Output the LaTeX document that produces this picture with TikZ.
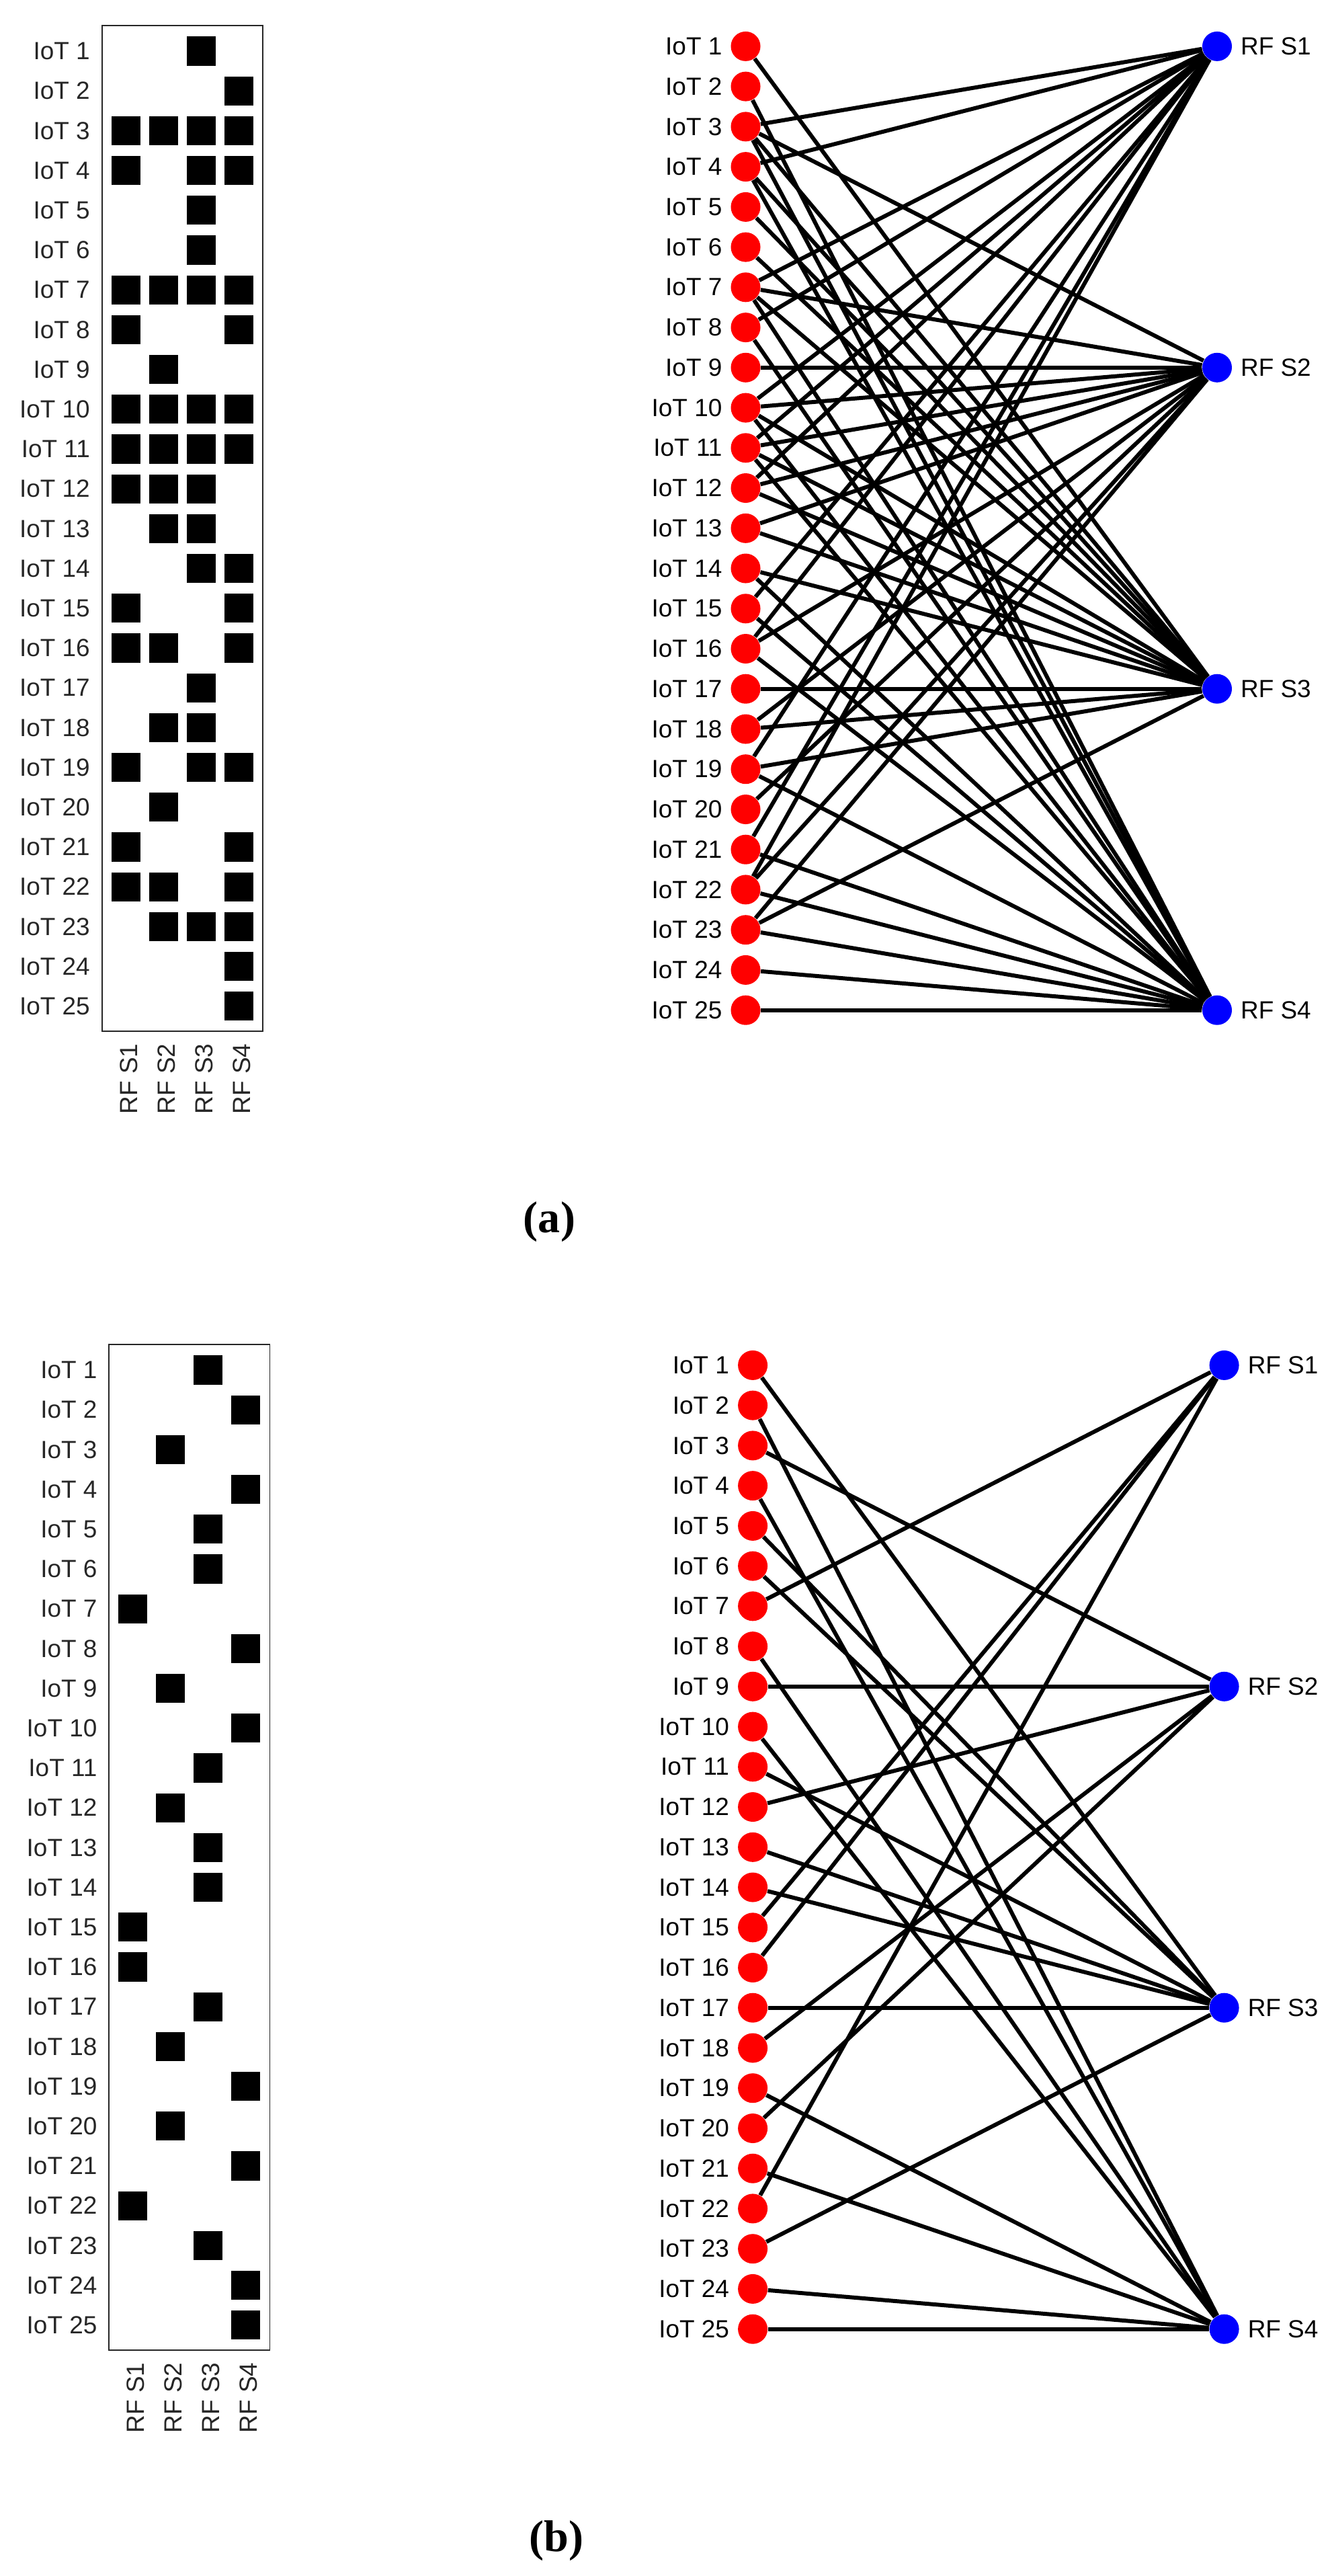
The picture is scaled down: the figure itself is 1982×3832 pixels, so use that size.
\documentclass[tikz,border=0pt]{standalone}
\usepackage{fontspec}
\usepackage{tikz}
\usepackage{xcolor}
\newfontfamily\labfont{Liberation Sans}
\newfontfamily\capfont{Liberation Serif}
\definecolor{axgray}{rgb}{0.15,0.15,0.15}
\tikzset{
  rowlab/.style={anchor=east,inner sep=0,text=axgray,font={\labfont\fontsize{10.5}{12}\selectfont}},
  collab/.style={rotate=90,anchor=east,inner sep=0,text=axgray,font={\labfont\fontsize{10.5}{12}\selectfont}},
  glab/.style={font={\labfont\fontsize{10.5}{12}\selectfont}},
  iot/.style={circle,fill=red,inner sep=0,minimum size=0.44cm,label distance=-0.07cm,label={[glab]left:#1}},
  rfs/.style={circle,fill=blue,inner sep=0,minimum size=0.44cm,label distance=-0.05cm,label={[glab]right:#1}},
  link/.style={line width=1.7pt},
  mbox/.style={draw=axgray,line width=0.5pt},
  sub/.style={font={\capfont\bfseries\fontsize{18.8}{22}\selectfont}}
}
\begin{document}
\begin{tikzpicture}[x=0.01cm,y=-0.01cm]
\useasboundingbox (0,0) rectangle (1982,3832);
\draw[mbox] (151.7,38) rectangle (391,1533.6);
\node[rowlab] (ra1) at (134.5,75.9) {IoT 1};
\node[rowlab] (ra2) at (134.5,135.1) {IoT 2};
\node[rowlab] (ra3) at (134.5,194.3) {IoT 3};
\node[rowlab] (ra4) at (134.5,253.5) {IoT 4};
\node[rowlab] (ra5) at (134.5,312.7) {IoT 5};
\node[rowlab] (ra6) at (134.5,371.9) {IoT 6};
\node[rowlab] (ra7) at (134.5,431.1) {IoT 7};
\node[rowlab] (ra8) at (134.5,490.3) {IoT 8};
\node[rowlab] (ra9) at (134.5,549.5) {IoT 9};
\node[rowlab] (ra10) at (134.5,608.7) {IoT 10};
\node[rowlab] (ra11) at (134.5,667.9) {IoT 11};
\node[rowlab] (ra12) at (134.5,727.1) {IoT 12};
\node[rowlab] (ra13) at (134.5,786.3) {IoT 13};
\node[rowlab] (ra14) at (134.5,845.5) {IoT 14};
\node[rowlab] (ra15) at (134.5,904.7) {IoT 15};
\node[rowlab] (ra16) at (134.5,963.9) {IoT 16};
\node[rowlab] (ra17) at (134.5,1023.1) {IoT 17};
\node[rowlab] (ra18) at (134.5,1082.3) {IoT 18};
\node[rowlab] (ra19) at (134.5,1141.5) {IoT 19};
\node[rowlab] (ra20) at (134.5,1200.7) {IoT 20};
\node[rowlab] (ra21) at (134.5,1259.9) {IoT 21};
\node[rowlab] (ra22) at (134.5,1319.1) {IoT 22};
\node[rowlab] (ra23) at (134.5,1378.3) {IoT 23};
\node[rowlab] (ra24) at (134.5,1437.5) {IoT 24};
\node[rowlab] (ra25) at (134.5,1496.7) {IoT 25};
\node[collab] (ca1) at (191.3,1552) {RF S1};
\node[collab] (ca2) at (247.3,1552) {RF S2};
\node[collab] (ca3) at (303.3,1552) {RF S3};
\node[collab] (ca4) at (359.3,1552) {RF S4};
\fill (277.8,54.3) rectangle +(43,43.2);
\fill (333.8,113.5) rectangle +(43,43.2);
\fill (165.8,172.7) rectangle +(43,43.2);
\fill (221.8,172.7) rectangle +(43,43.2);
\fill (277.8,172.7) rectangle +(43,43.2);
\fill (333.8,172.7) rectangle +(43,43.2);
\fill (165.8,231.9) rectangle +(43,43.2);
\fill (277.8,231.9) rectangle +(43,43.2);
\fill (333.8,231.9) rectangle +(43,43.2);
\fill (277.8,291.1) rectangle +(43,43.2);
\fill (277.8,350.3) rectangle +(43,43.2);
\fill (165.8,409.5) rectangle +(43,43.2);
\fill (221.8,409.5) rectangle +(43,43.2);
\fill (277.8,409.5) rectangle +(43,43.2);
\fill (333.8,409.5) rectangle +(43,43.2);
\fill (165.8,468.7) rectangle +(43,43.2);
\fill (333.8,468.7) rectangle +(43,43.2);
\fill (221.8,527.9) rectangle +(43,43.2);
\fill (165.8,587.1) rectangle +(43,43.2);
\fill (221.8,587.1) rectangle +(43,43.2);
\fill (277.8,587.1) rectangle +(43,43.2);
\fill (333.8,587.1) rectangle +(43,43.2);
\fill (165.8,646.3) rectangle +(43,43.2);
\fill (221.8,646.3) rectangle +(43,43.2);
\fill (277.8,646.3) rectangle +(43,43.2);
\fill (333.8,646.3) rectangle +(43,43.2);
\fill (165.8,705.5) rectangle +(43,43.2);
\fill (221.8,705.5) rectangle +(43,43.2);
\fill (277.8,705.5) rectangle +(43,43.2);
\fill (221.8,764.7) rectangle +(43,43.2);
\fill (277.8,764.7) rectangle +(43,43.2);
\fill (277.8,823.9) rectangle +(43,43.2);
\fill (333.8,823.9) rectangle +(43,43.2);
\fill (165.8,883.1) rectangle +(43,43.2);
\fill (333.8,883.1) rectangle +(43,43.2);
\fill (165.8,942.3) rectangle +(43,43.2);
\fill (221.8,942.3) rectangle +(43,43.2);
\fill (333.8,942.3) rectangle +(43,43.2);
\fill (277.8,1001.5) rectangle +(43,43.2);
\fill (221.8,1060.7) rectangle +(43,43.2);
\fill (277.8,1060.7) rectangle +(43,43.2);
\fill (165.8,1119.9) rectangle +(43,43.2);
\fill (277.8,1119.9) rectangle +(43,43.2);
\fill (333.8,1119.9) rectangle +(43,43.2);
\fill (221.8,1179.1) rectangle +(43,43.2);
\fill (165.8,1238.3) rectangle +(43,43.2);
\fill (333.8,1238.3) rectangle +(43,43.2);
\fill (165.8,1297.5) rectangle +(43,43.2);
\fill (221.8,1297.5) rectangle +(43,43.2);
\fill (333.8,1297.5) rectangle +(43,43.2);
\fill (221.8,1356.7) rectangle +(43,43.2);
\fill (277.8,1356.7) rectangle +(43,43.2);
\fill (333.8,1356.7) rectangle +(43,43.2);
\fill (333.8,1415.9) rectangle +(43,43.2);
\fill (333.8,1475.1) rectangle +(43,43.2);
\node[iot=IoT 1] (ia1) at (1109.5,68.9) {};
\node[iot=IoT 2] (ia2) at (1109.5,128.6) {};
\node[iot=IoT 3] (ia3) at (1109.5,188.4) {};
\node[iot=IoT 4] (ia4) at (1109.5,248.1) {};
\node[iot=IoT 5] (ia5) at (1109.5,307.9) {};
\node[iot=IoT 6] (ia6) at (1109.5,367.6) {};
\node[iot=IoT 7] (ia7) at (1109.5,427.3) {};
\node[iot=IoT 8] (ia8) at (1109.5,487.1) {};
\node[iot=IoT 9] (ia9) at (1109.5,546.8) {};
\node[iot=IoT 10] (ia10) at (1109.5,606.6) {};
\node[iot=IoT 11] (ia11) at (1109.5,666.3) {};
\node[iot=IoT 12] (ia12) at (1109.5,726.0) {};
\node[iot=IoT 13] (ia13) at (1109.5,785.8) {};
\node[iot=IoT 14] (ia14) at (1109.5,845.5) {};
\node[iot=IoT 15] (ia15) at (1109.5,905.3) {};
\node[iot=IoT 16] (ia16) at (1109.5,965.0) {};
\node[iot=IoT 17] (ia17) at (1109.5,1024.7) {};
\node[iot=IoT 18] (ia18) at (1109.5,1084.5) {};
\node[iot=IoT 19] (ia19) at (1109.5,1144.2) {};
\node[iot=IoT 20] (ia20) at (1109.5,1204.0) {};
\node[iot=IoT 21] (ia21) at (1109.5,1263.7) {};
\node[iot=IoT 22] (ia22) at (1109.5,1323.4) {};
\node[iot=IoT 23] (ia23) at (1109.5,1383.2) {};
\node[iot=IoT 24] (ia24) at (1109.5,1442.9) {};
\node[iot=IoT 25] (ia25) at (1109.5,1502.7) {};
\node[rfs=RF S1] (sa1) at (1811,68.9) {};
\node[rfs=RF S2] (sa2) at (1811,546.8) {};
\node[rfs=RF S3] (sa3) at (1811,1024.7) {};
\node[rfs=RF S4] (sa4) at (1811,1502.7) {};
\draw[link] (ia1) -- (sa3);
\draw[link] (ia2) -- (sa4);
\draw[link] (ia3) -- (sa1) (ia3) -- (sa2) (ia3) -- (sa3) (ia3) -- (sa4);
\draw[link] (ia4) -- (sa1) (ia4) -- (sa3) (ia4) -- (sa4);
\draw[link] (ia5) -- (sa3);
\draw[link] (ia6) -- (sa3);
\draw[link] (ia7) -- (sa1) (ia7) -- (sa2) (ia7) -- (sa3) (ia7) -- (sa4);
\draw[link] (ia8) -- (sa1) (ia8) -- (sa4);
\draw[link] (ia9) -- (sa2);
\draw[link] (ia10) -- (sa1) (ia10) -- (sa2) (ia10) -- (sa3) (ia10) -- (sa4);
\draw[link] (ia11) -- (sa1) (ia11) -- (sa2) (ia11) -- (sa3) (ia11) -- (sa4);
\draw[link] (ia12) -- (sa1) (ia12) -- (sa2) (ia12) -- (sa3);
\draw[link] (ia13) -- (sa2) (ia13) -- (sa3);
\draw[link] (ia14) -- (sa3) (ia14) -- (sa4);
\draw[link] (ia15) -- (sa1) (ia15) -- (sa4);
\draw[link] (ia16) -- (sa1) (ia16) -- (sa2) (ia16) -- (sa4);
\draw[link] (ia17) -- (sa3);
\draw[link] (ia18) -- (sa2) (ia18) -- (sa3);
\draw[link] (ia19) -- (sa1) (ia19) -- (sa3) (ia19) -- (sa4);
\draw[link] (ia20) -- (sa2);
\draw[link] (ia21) -- (sa1) (ia21) -- (sa4);
\draw[link] (ia22) -- (sa1) (ia22) -- (sa2) (ia22) -- (sa4);
\draw[link] (ia23) -- (sa2) (ia23) -- (sa3) (ia23) -- (sa4);
\draw[link] (ia24) -- (sa4);
\draw[link] (ia25) -- (sa4);
\node[sub] (capa) at (817.5,1818) {(a)};
\begin{scope}[shift={(10.6,1962)}]
\draw[mbox] (151.7,38) rectangle (391,1533.6);
\node[rowlab] (rb1) at (134.5,75.9) {IoT 1};
\node[rowlab] (rb2) at (134.5,135.1) {IoT 2};
\node[rowlab] (rb3) at (134.5,194.3) {IoT 3};
\node[rowlab] (rb4) at (134.5,253.5) {IoT 4};
\node[rowlab] (rb5) at (134.5,312.7) {IoT 5};
\node[rowlab] (rb6) at (134.5,371.9) {IoT 6};
\node[rowlab] (rb7) at (134.5,431.1) {IoT 7};
\node[rowlab] (rb8) at (134.5,490.3) {IoT 8};
\node[rowlab] (rb9) at (134.5,549.5) {IoT 9};
\node[rowlab] (rb10) at (134.5,608.7) {IoT 10};
\node[rowlab] (rb11) at (134.5,667.9) {IoT 11};
\node[rowlab] (rb12) at (134.5,727.1) {IoT 12};
\node[rowlab] (rb13) at (134.5,786.3) {IoT 13};
\node[rowlab] (rb14) at (134.5,845.5) {IoT 14};
\node[rowlab] (rb15) at (134.5,904.7) {IoT 15};
\node[rowlab] (rb16) at (134.5,963.9) {IoT 16};
\node[rowlab] (rb17) at (134.5,1023.1) {IoT 17};
\node[rowlab] (rb18) at (134.5,1082.3) {IoT 18};
\node[rowlab] (rb19) at (134.5,1141.5) {IoT 19};
\node[rowlab] (rb20) at (134.5,1200.7) {IoT 20};
\node[rowlab] (rb21) at (134.5,1259.9) {IoT 21};
\node[rowlab] (rb22) at (134.5,1319.1) {IoT 22};
\node[rowlab] (rb23) at (134.5,1378.3) {IoT 23};
\node[rowlab] (rb24) at (134.5,1437.5) {IoT 24};
\node[rowlab] (rb25) at (134.5,1496.7) {IoT 25};
\node[collab] (cb1) at (191.3,1552) {RF S1};
\node[collab] (cb2) at (247.3,1552) {RF S2};
\node[collab] (cb3) at (303.3,1552) {RF S3};
\node[collab] (cb4) at (359.3,1552) {RF S4};
\fill (277.8,54.3) rectangle +(43,43.2);
\fill (333.8,113.5) rectangle +(43,43.2);
\fill (221.8,172.7) rectangle +(43,43.2);
\fill (333.8,231.9) rectangle +(43,43.2);
\fill (277.8,291.1) rectangle +(43,43.2);
\fill (277.8,350.3) rectangle +(43,43.2);
\fill (165.8,409.5) rectangle +(43,43.2);
\fill (333.8,468.7) rectangle +(43,43.2);
\fill (221.8,527.9) rectangle +(43,43.2);
\fill (333.8,587.1) rectangle +(43,43.2);
\fill (277.8,646.3) rectangle +(43,43.2);
\fill (221.8,705.5) rectangle +(43,43.2);
\fill (277.8,764.7) rectangle +(43,43.2);
\fill (277.8,823.9) rectangle +(43,43.2);
\fill (165.8,883.1) rectangle +(43,43.2);
\fill (165.8,942.3) rectangle +(43,43.2);
\fill (277.8,1001.5) rectangle +(43,43.2);
\fill (221.8,1060.7) rectangle +(43,43.2);
\fill (333.8,1119.9) rectangle +(43,43.2);
\fill (221.8,1179.1) rectangle +(43,43.2);
\fill (333.8,1238.3) rectangle +(43,43.2);
\fill (165.8,1297.5) rectangle +(43,43.2);
\fill (277.8,1356.7) rectangle +(43,43.2);
\fill (333.8,1415.9) rectangle +(43,43.2);
\fill (333.8,1475.1) rectangle +(43,43.2);
\node[iot=IoT 1] (ib1) at (1109.5,68.9) {};
\node[iot=IoT 2] (ib2) at (1109.5,128.6) {};
\node[iot=IoT 3] (ib3) at (1109.5,188.4) {};
\node[iot=IoT 4] (ib4) at (1109.5,248.1) {};
\node[iot=IoT 5] (ib5) at (1109.5,307.9) {};
\node[iot=IoT 6] (ib6) at (1109.5,367.6) {};
\node[iot=IoT 7] (ib7) at (1109.5,427.3) {};
\node[iot=IoT 8] (ib8) at (1109.5,487.1) {};
\node[iot=IoT 9] (ib9) at (1109.5,546.8) {};
\node[iot=IoT 10] (ib10) at (1109.5,606.6) {};
\node[iot=IoT 11] (ib11) at (1109.5,666.3) {};
\node[iot=IoT 12] (ib12) at (1109.5,726.0) {};
\node[iot=IoT 13] (ib13) at (1109.5,785.8) {};
\node[iot=IoT 14] (ib14) at (1109.5,845.5) {};
\node[iot=IoT 15] (ib15) at (1109.5,905.3) {};
\node[iot=IoT 16] (ib16) at (1109.5,965.0) {};
\node[iot=IoT 17] (ib17) at (1109.5,1024.7) {};
\node[iot=IoT 18] (ib18) at (1109.5,1084.5) {};
\node[iot=IoT 19] (ib19) at (1109.5,1144.2) {};
\node[iot=IoT 20] (ib20) at (1109.5,1204.0) {};
\node[iot=IoT 21] (ib21) at (1109.5,1263.7) {};
\node[iot=IoT 22] (ib22) at (1109.5,1323.4) {};
\node[iot=IoT 23] (ib23) at (1109.5,1383.2) {};
\node[iot=IoT 24] (ib24) at (1109.5,1442.9) {};
\node[iot=IoT 25] (ib25) at (1109.5,1502.7) {};
\node[rfs=RF S1] (sb1) at (1811,68.9) {};
\node[rfs=RF S2] (sb2) at (1811,546.8) {};
\node[rfs=RF S3] (sb3) at (1811,1024.7) {};
\node[rfs=RF S4] (sb4) at (1811,1502.7) {};
\draw[link] (ib1) -- (sb3);
\draw[link] (ib2) -- (sb4);
\draw[link] (ib3) -- (sb2);
\draw[link] (ib4) -- (sb4);
\draw[link] (ib5) -- (sb3);
\draw[link] (ib6) -- (sb3);
\draw[link] (ib7) -- (sb1);
\draw[link] (ib8) -- (sb4);
\draw[link] (ib9) -- (sb2);
\draw[link] (ib10) -- (sb4);
\draw[link] (ib11) -- (sb3);
\draw[link] (ib12) -- (sb2);
\draw[link] (ib13) -- (sb3);
\draw[link] (ib14) -- (sb3);
\draw[link] (ib15) -- (sb1);
\draw[link] (ib16) -- (sb1);
\draw[link] (ib17) -- (sb3);
\draw[link] (ib18) -- (sb2);
\draw[link] (ib19) -- (sb4);
\draw[link] (ib20) -- (sb2);
\draw[link] (ib21) -- (sb4);
\draw[link] (ib22) -- (sb1);
\draw[link] (ib23) -- (sb3);
\draw[link] (ib24) -- (sb4);
\draw[link] (ib25) -- (sb4);
\node[sub] (capb) at (817.5,1818) {(b)};
\end{scope}
\end{tikzpicture}
\end{document}
